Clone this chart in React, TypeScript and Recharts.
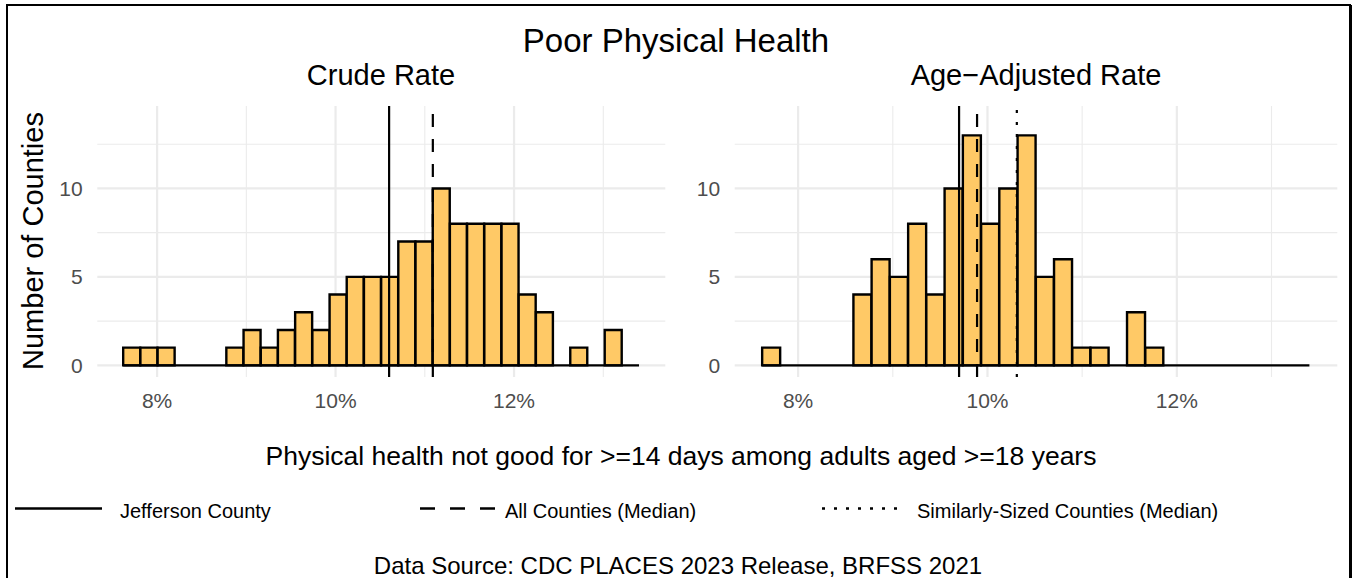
import React from 'react';
import { BarChart, Bar, XAxis, YAxis, CartesianGrid, ReferenceLine } from 'recharts';

// histogram bins (centres, % of adults), 30 bins shared by both panels
const BIN_WIDTH = 0.1927;
const BIN_CENTERS = [
  7.716, 7.909, 8.102, 8.294, 8.487, 8.68, 8.872, 9.065, 9.258, 9.45,
  9.643, 9.836, 10.029, 10.221, 10.414, 10.607, 10.799, 10.992, 11.185, 11.377,
  11.57, 11.763, 11.956, 12.148, 12.341, 12.534, 12.726, 12.919, 13.112, 13.304,
];
const CRUDE_COUNTS = [
  1, 1, 1, 0, 0, 0, 1, 2, 1, 2,
  3, 2, 4, 5, 5, 5, 7, 7, 10, 8,
  8, 8, 8, 4, 3, 0, 1, 0, 2, 0,
];
const ADJUSTED_COUNTS = [
  1, 0, 0, 0, 0, 4, 6, 5, 8, 4,
  10, 13, 8, 10, 13, 5, 6, 1, 1, 0,
  3, 1, 0, 0, 0, 0, 0, 0, 0, 0,
];

// reference lines
const CRUDE_LINES = [
  { x: 10.6, dash: undefined },   // Jefferson County
  { x: 11.09, dash: '13 12' },    // All counties median
];
const ADJUSTED_LINES = [
  { x: 9.7, dash: undefined },
  { x: 9.89, dash: '13 12' },
  { x: 10.31, dash: '3 9' },      // similarly-sized counties median
];

const X_MAJOR = [8, 10, 12];
const X_MINOR = [9, 11, 13];
const Y_MAJOR = [0, 5, 10];
const Y_MINOR = [2.5, 7.5, 12.5];
const X_DOMAIN = [7.33, 13.695];
const Y_DOMAIN = [-0.66, 14.66];

const FONT = '"Liberation Sans", Arial, Helvetica, sans-serif';
const FILL = '#FFC966';

const table = BIN_CENTERS.map((x, i) => ({
  x,
  crude: CRUDE_COUNTS[i],
  adjusted: ADJUSTED_COUNTS[i],
}));

const tickStyle = { fill: '#4D4D4D', fontSize: 21, fontFamily: FONT };

interface PanelProps {
  dataKey: string;
  left: number;
  width: number;
  yAxisWidth: number;
  marginRight: number;
  lines: { x: number; dash?: string }[];
}

const Panel: React.FC<PanelProps> = ({ dataKey, left, width, yAxisWidth, marginRight, lines }) => {
  const start = BIN_CENTERS[0] - BIN_WIDTH / 2;
  const end = BIN_CENTERS[BIN_CENTERS.length - 1] + BIN_WIDTH / 2;
  return (
    <div style={{ position: 'absolute', left, top: 96 }}>
      <BarChart
        width={width}
        height={330}
        data={table}
        margin={{ top: 10, right: marginRight, bottom: 9, left: 0 }}
        barCategoryGap={0}
        barGap={0}
      >
        <CartesianGrid
          horizontalValues={Y_MINOR}
          verticalValues={X_MINOR}
          stroke="#EBEBEB"
          strokeWidth={1.1}
        />
        <CartesianGrid
          horizontalValues={Y_MAJOR}
          verticalValues={X_MAJOR}
          stroke="#EBEBEB"
          strokeWidth={2.2}
        />
        <XAxis
          type="number"
          dataKey="x"
          domain={X_DOMAIN}
          ticks={X_MAJOR}
          tickFormatter={(v) => `${v}%`}
          axisLine={false}
          tickLine={false}
          tickSize={0}
          tickMargin={16}
          height={40}
          tick={tickStyle}
          allowDataOverflow
        />
        <YAxis
          type="number"
          domain={Y_DOMAIN}
          ticks={Y_MAJOR}
          width={yAxisWidth}
          axisLine={false}
          tickLine={false}
          tickSize={0}
          tickMargin={14.6}
          tick={tickStyle}
          allowDataOverflow
        />
        <Bar dataKey={dataKey} fill={FILL} stroke="#000" strokeWidth={2.4} isAnimationActive={false} />
        <ReferenceLine
          segment={[{ x: start, y: 0 }, { x: end, y: 0 }]}
          stroke="#000"
          strokeWidth={2.4}
        />
        {lines.map((l) => (
          <ReferenceLine
            key={l.x}
            x={l.x}
            stroke="#000"
            strokeWidth={2.2}
            strokeDasharray={l.dash}
          />
        ))}
      </BarChart>
    </div>
  );
};

export default function App() {
  return (
    <div
      style={{
        position: 'absolute',
        left: 0,
        top: 0,
        width: 1353,
        height: 578,
        background: '#fff',
        overflow: 'hidden',
        fontFamily: FONT,
      }}
    >
      <svg width={1353} height={578} style={{ position: 'absolute', left: 0, top: 0 }}>
        <rect x={7} y={5} width={1343} height={700} fill="none" stroke="#000" strokeWidth={2} />
        <line x1={1350.5} y1={5} x2={1350.5} y2={578} stroke="#000" strokeWidth={3} />
        <text x={676} y={52} textAnchor="middle" fontSize={33} fill="#000">Poor Physical Health</text>
        <text x={381} y={85} textAnchor="middle" fontSize={29} fill="#000">Crude Rate</text>
        <text x={1036} y={85} textAnchor="middle" fontSize={29} fill="#000">Age−Adjusted Rate</text>
        <text transform="translate(43,241) rotate(-90)" textAnchor="middle" fontSize={29} fill="#000">
          Number of Counties
        </text>
        <text x={681} y={465} textAnchor="middle" fontSize={26.5} fill="#000">
          Physical health not good for &gt;=14 days among adults aged &gt;=18 years
        </text>

        {/* legend */}
        <line x1={15} y1={508.5} x2={102} y2={508.5} stroke="#000" strokeWidth={2.7} />
        <text x={120} y={518} fontSize={20} fill="#000">Jefferson County</text>
        <line x1={420} y1={508.5} x2={495} y2={508.5} stroke="#000" strokeWidth={2.7} strokeDasharray="15 15" />
        <text x={505} y={518} fontSize={20} fill="#000">All Counties (Median)</text>
        <line x1={822} y1={508.5} x2={898} y2={508.5} stroke="#000" strokeWidth={2.7} strokeDasharray="3 9" />
        <text x={917} y={518} fontSize={20} fill="#000">Similarly-Sized Counties (Median)</text>

        <text x={678} y={574} textAnchor="middle" fontSize={24} fill="#000">
          Data Source: CDC PLACES 2023 Release, BRFSS 2021
        </text>
      </svg>

      <Panel dataKey="crude" left={0} width={680} yAxisWidth={97.3} marginRight={14.7} lines={CRUDE_LINES} />
      <Panel dataKey="adjusted" left={680} width={670} yAxisWidth={54.7} marginRight={12.7} lines={ADJUSTED_LINES} />
    </div>
  );
}
